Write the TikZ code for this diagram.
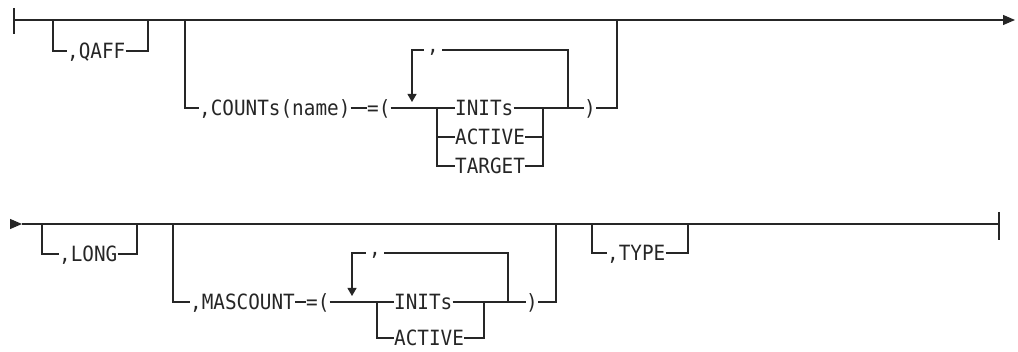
\documentclass[tikz,border=0pt]{standalone}
\usepackage{fontspec}
\setmonofont[FakeStretch=0.92]{DejaVu Sans Mono}
\usetikzlibrary{arrows.meta}
\begin{document}
\begin{tikzpicture}[x=1pt,y=-1pt,
  rail/.style={line width=1.1pt, draw=black!85},
  lbl/.style={anchor=west, inner sep=0pt, text height=15pt, text depth=0pt,
    font=\ttfamily\fontsize{21}{21}\selectfont, text=black!85},
  sepc/.style={lbl, anchor=center, fill=white, inner xsep=3pt},
  bigtip/.style={-{Triangle[length=12pt,width=10pt]}},
  downtip/.style={-{Triangle[length=8pt,width=9pt]}}]
\useasboundingbox (0,0) rectangle (1018,352);

% ---------------- Row 1 ----------------
\coordinate (s1t) at (14,8);
\coordinate (s1b) at (14,34);
\coordinate (s1) at (14,20);
\coordinate (e1) at (1015,20);
\draw[rail] (s1t) -- (s1b);
\draw[rail,bigtip] (s1) -- (e1);
\draw[line width=1.8pt, draw=black!85] (20,19.6) -- (30,19.6);

% ,QAFF
\coordinate (q1) at (53,20);
\coordinate (q2) at (148,20);
\node[lbl] (qaff) at (67,51) {,QAFF};
\draw[rail] (q1) |- (qaff.west);
\draw[rail] (qaff.east) -| (q2);

% ,COUNTs(name)=(...)
\coordinate (c1) at (185,20);
\coordinate (c2) at (617,20);
\node[lbl] (cnt) at (199,108) {,COUNTs(name)};
\node[lbl] (eq1) at (367,108) {=(};
\draw[rail] (c1) |- (cnt.west);
\draw[rail] (cnt.east) -- (eq1.west);
\coordinate (ch1) at (437,108);
\node[lbl] (ini1) at (455,108) {INITs};
\node[lbl] (act1) at (455,137) {ACTIVE};
\node[lbl] (tar1) at (455,166) {TARGET};
\coordinate (cr1) at (543,108);
\coordinate (lr1) at (568,108);
\node[lbl,anchor=center] (rp1) at (590,108) {)};
\draw[rail] (eq1.east) -- (ini1.west);
\draw[rail] (ini1.east) -- (rp1.west);
\draw[rail] (ch1) |- (act1.west);
\draw[rail] (ch1) |- (tar1.west);
\draw[rail] (act1.east) -| (cr1);
\draw[rail] (tar1.east) -| (cr1);
\draw[rail] (rp1.east) -| (c2);
% repeat loop
\coordinate (lrt1) at (568,50);
\coordinate (llt1) at (412,50);
\coordinate (la1) at (412,102);
\draw[rail,downtip] (lr1) -- (lrt1) -- (llt1) -- (la1);
\node[sepc] (cm1) at (433,45) {,};

% ---------------- Row 2 ----------------
\coordinate (s2a) at (10,224);
\coordinate (s2) at (22,224);
\coordinate (e2) at (999,224);
\coordinate (e2t) at (999,212);
\coordinate (e2b) at (999,240);
\draw[rail,bigtip] (s2a) -- (s2);
\draw[rail] (s2) -- (e2);
\draw[rail] (e2t) -- (e2b);
\draw[line width=1.8pt, draw=black!85] (688,223.5) -- (717,223.5);

% ,LONG
\coordinate (l1) at (42,224);
\coordinate (l2) at (137,224);
\node[lbl] (long) at (59,254) {,LONG};
\draw[rail] (l1) |- (long.west);
\draw[rail] (long.east) -| (l2);

% ,MASCOUNT=(...)
\coordinate (m1) at (173,224);
\coordinate (m2) at (556,224);
\node[lbl] (mas) at (190,302) {,MASCOUNT};
\node[lbl] (eq2) at (306,302) {=(};
\draw[rail] (m1) |- (mas.west);
\draw[rail] (mas.east) -- (eq2.west);
\coordinate (ch2) at (377,302);
\node[lbl] (ini2) at (394,302) {INITs};
\node[lbl] (act2) at (394,338) {ACTIVE};
\coordinate (cr2) at (484,302);
\coordinate (lr2) at (508,302);
\node[lbl,anchor=center] (rp2) at (532,302) {)};
\draw[rail] (eq2.east) -- (ini2.west);
\draw[rail] (ini2.east) -- (rp2.west);
\draw[rail] (ch2) |- (act2.west);
\draw[rail] (act2.east) -| (cr2);
\draw[rail] (rp2.east) -| (m2);
% repeat loop
\coordinate (lrt2) at (508,253);
\coordinate (llt2) at (352,253);
\coordinate (la2) at (352,296);
\draw[rail,downtip] (lr2) -- (lrt2) -- (llt2) -- (la2);
\node[sepc] (cm2) at (375,248) {,};

% ,TYPE
\coordinate (t1) at (592,224);
\coordinate (t2) at (688,224);
\node[lbl] (type) at (607,253) {,TYPE};
\draw[rail] (t1) |- (type.west);
\draw[rail] (type.east) -| (t2);
\end{tikzpicture}
\end{document}
